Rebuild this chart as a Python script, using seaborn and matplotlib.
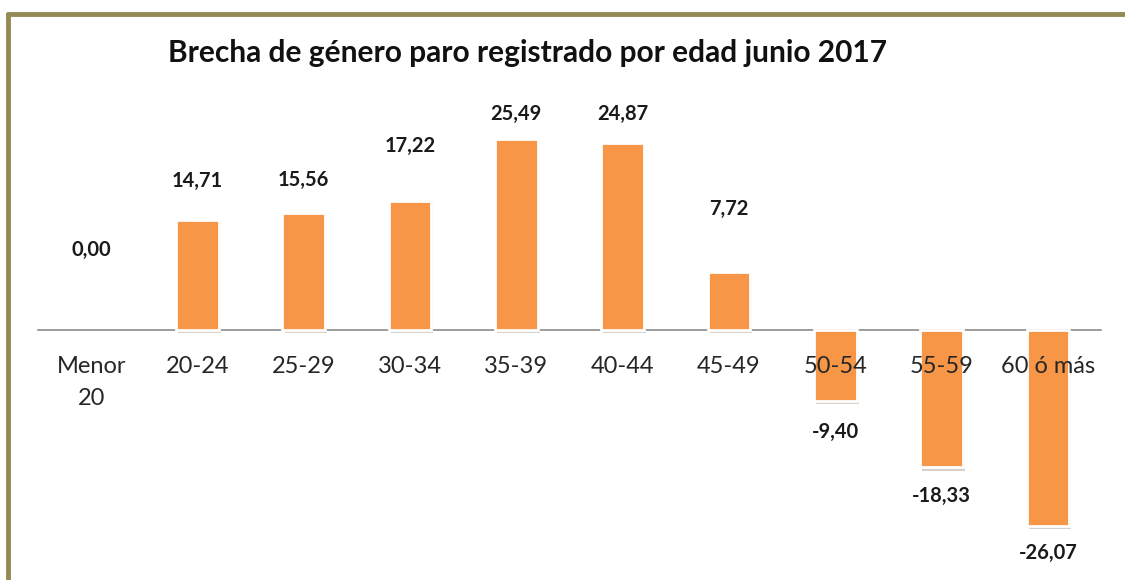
import pandas as pd
import matplotlib.pyplot as plt
import matplotlib.patheffects as pe
from matplotlib.lines import Line2D
import seaborn as sns

# Data
categories = ["Menor\n20", "20-24", "25-29", "30-34", "35-39",
              "40-44", "45-49", "50-54", "55-59", "60 ó más"]
brecha = [0.00, 14.71, 15.56, 17.22, 25.49, 24.87, 7.72, -9.40, -18.33, -26.07]

# label offsets (pixels) from the bar end, as placed in the original chart
label_dy = [80, 39, 33, 55, 25, 30, 63, 31, 28, 27]

df = pd.DataFrame({"edad": categories, "brecha": brecha})

sns.set_style("white")
plt.rcParams["font.family"] = ["Lato", "DejaVu Sans"]

fig = plt.figure(figsize=(11.25, 5.8), dpi=100)
ax = fig.add_axes([38 / 1125, 10 / 580, (1101 - 38) / 1125, 480 / 580])

sns.barplot(x="edad", y="brecha", data=df, ax=ax, color="#F79646",
            saturation=1, width=0.4, edgecolor="white", linewidth=2, zorder=2)

for bar, v in zip(ax.patches, brecha):
    if v != 0:
        bar.set_path_effects([pe.SimplePatchShadow(offset=(1.5, -2.5), alpha=0.22),
                              pe.Normal()])
    else:
        bar.set_visible(False)

ax.set_ylim(-32, 32)
ax.set_xlim(-0.5, len(categories) - 0.5)
ax.set_axisbelow(False)

# value labels
for i, v in enumerate(brecha):
    txt = f"{v:.2f}".replace(".", ",")
    dy = label_dy[i] if v >= 0 else -label_dy[i]
    ax.annotate(txt, (i, v), xytext=(0, dy * 0.72), textcoords="offset points",
                ha="center", va="center", fontsize=14.5, fontweight="bold",
                color="#1a1a1a", zorder=6)

# axis styling
for s in ["top", "right", "left"]:
    ax.spines[s].set_visible(False)
ax.spines["bottom"].set_position(("data", 0))
ax.spines["bottom"].set_color("#8c8c8c")
ax.spines["bottom"].set_linewidth(1.2)
ax.spines["bottom"].set_zorder(1)
ax.set_yticks([])
ax.tick_params(axis="x", length=0, pad=19, labelsize=17, labelcolor="#262626")
for lab in ax.get_xticklabels():
    lab.set_verticalalignment("top")
    lab.set_linespacing(1.6)
ax.set_xlabel("")
ax.set_ylabel("")

fig.text(527 / 1125, 1 - 53 / 580, "Brecha de género paro registrado por edad junio 2017",
         ha="center", va="center", fontsize=21.5, fontweight="bold", color="#111111")

# outer border (olive) visible on top and left
fig.add_artist(Line2D([8 / 1125, 1], [1 - 14 / 580, 1 - 14 / 580],
                      transform=fig.transFigure, color="#948A54", linewidth=3.5))
fig.add_artist(Line2D([8 / 1125, 8 / 1125], [0, 1 - 14 / 580],
                      transform=fig.transFigure, color="#948A54", linewidth=3.5))

fig.savefig("out.png", dpi=100)
